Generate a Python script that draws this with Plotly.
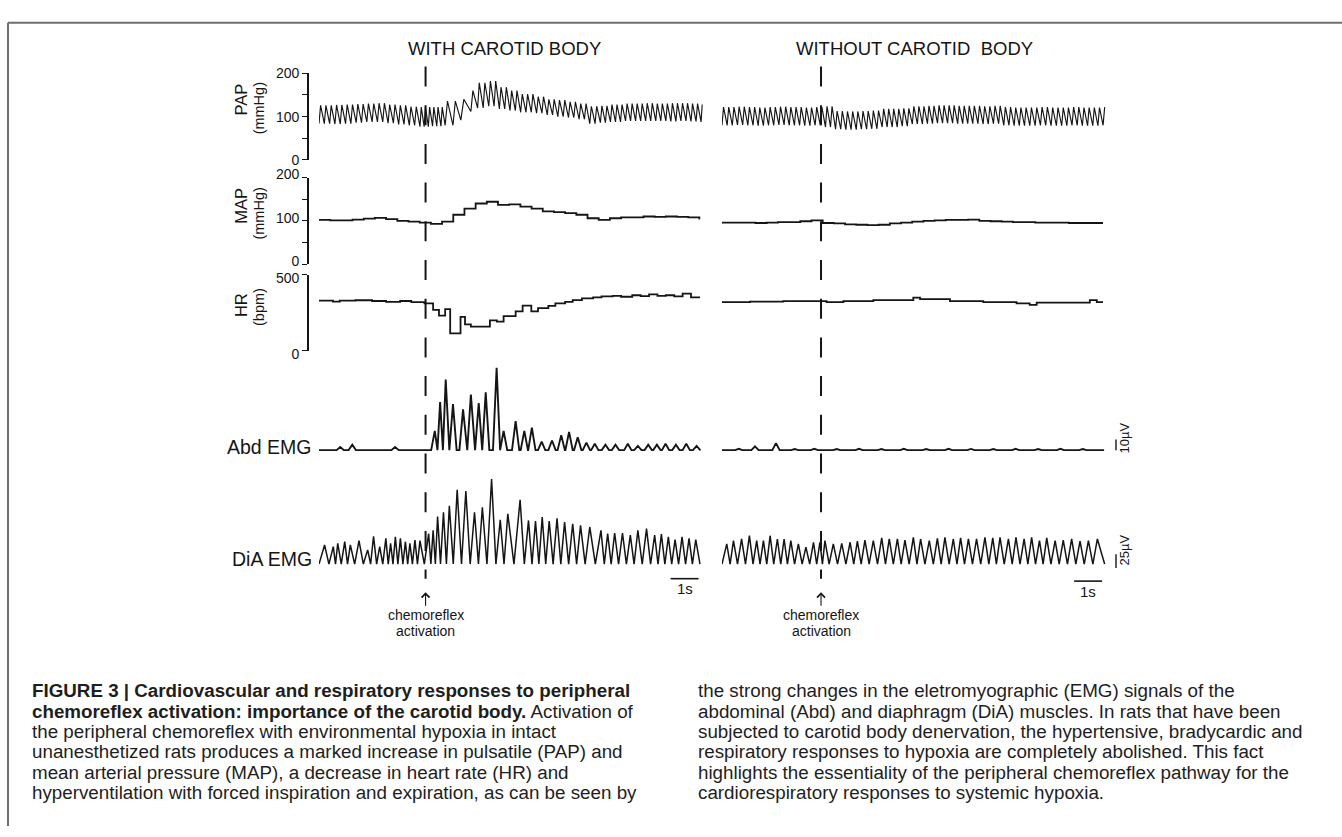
import numpy as np
import plotly.graph_objects as go

W, H = 1342, 837
FONT = "Liberation Sans, Arial, Helvetica, sans-serif"
INK = "#151515"

# ----------------------------- data -----------------------------
# Mean arterial pressure (mmHg), 0.4 s bins
MAP_BIN = 0.4
map_left = [102, 101, 101, 103, 105, 107, 104, 100, 98, 96,
            93, 98, 114, 128, 140, 144, 137, 138, 133, 128,
            122, 120, 118, 114, 106, 102, 106, 108, 108, 110,
            109, 110, 109, 108, 105]
map_right = [96, 96, 96, 95, 96, 97, 97, 99, 101, 95,
             94, 92, 91, 90, 91, 94, 96, 98, 100, 101,
             102, 102, 103, 100, 99, 98, 97, 97, 96, 96,
             96, 95, 95, 95, 95]

# Pulsatile arterial pressure: systolic / diastolic (mmHg) and beat interval (s), 0.4 s bins
PAP_BIN = 0.4
pap_sys_left = [126, 127, 128, 129, 130, 131, 128, 126, 123, 122,
                122, 136, 140, 160, 178, 182, 168, 160, 152, 146,
                140, 138, 134, 130, 124, 125, 128, 130, 130, 131,
                130, 131, 131, 130, 128]
pap_dia_left = [84, 83, 84, 86, 88, 88, 85, 82, 80, 77,
                78, 80, 92, 112, 120, 124, 118, 114, 110, 108,
                104, 100, 98, 94, 84, 86, 88, 90, 90, 90,
                90, 89, 90, 89, 88]
pap_ibi_left = [0.19, 0.19, 0.19, 0.19, 0.19, 0.19, 0.19, 0.19, 0.19, 0.15,
                0.15, 0.28, 0.36, 0.24, 0.20, 0.19, 0.19, 0.19, 0.19, 0.19,
                0.19, 0.19, 0.19, 0.19, 0.19, 0.18, 0.18, 0.18, 0.18, 0.18,
                0.18, 0.18, 0.18, 0.18, 0.18]
pap_sys_right = [122, 123, 122, 121, 122, 123, 122, 121, 122, 124,
                 113, 112, 113, 114, 118, 118, 119, 124, 125, 126,
                 126, 125, 125, 124, 125, 122, 121, 121, 122, 121,
                 121, 122, 121, 121, 122]
pap_dia_right = [80, 81, 80, 79, 80, 81, 80, 79, 80, 76,
                 71, 70, 71, 72, 76, 76, 78, 83, 84, 85,
                 85, 84, 84, 83, 84, 80, 79, 79, 80, 79,
                 79, 80, 79, 79, 80]
pap_ibi_right = [0.185, 0.185, 0.185, 0.185, 0.185, 0.185, 0.185, 0.185, 0.185, 0.18,
                 0.185, 0.185, 0.185, 0.185, 0.18, 0.18, 0.18, 0.18, 0.18, 0.18,
                 0.18, 0.18, 0.185, 0.185, 0.185, 0.185, 0.185, 0.19, 0.19, 0.19,
                 0.185, 0.185, 0.185, 0.185, 0.185]

# Heart rate (bpm) as step changes: start time (s) of each step and its value
hr_left_t = [0.0, 0.5, 0.74, 1.3, 1.9, 2.4, 2.9, 3.3, 3.77, 4.08,
             4.29, 4.51, 4.69, 5.06, 5.22, 5.43, 6.11, 6.36, 6.6, 7.03,
             7.28, 7.59, 7.83, 8.2, 8.45, 8.8, 9.07, 9.4, 9.8, 10.1,
             10.5, 10.8, 11.2, 11.5, 11.8, 12.1, 12.4, 12.7, 13.0, 13.3]
hr_left_bpm = [330, 324, 330, 333, 328, 322, 328, 320, 313, 270,
               232, 275, 115, 223, 174, 160, 200, 192, 228, 260,
               298, 260, 281, 296, 313, 322, 334, 345, 352, 358,
               362, 356, 366, 360, 372, 362, 366, 358, 377, 352]
hr_right_t = [0.0, 1.0, 2.19, 3.74, 4.34, 5.41, 6.84, 7.08, 8.15, 9.34,
              10.53, 11.0, 11.25, 13.15, 13.4]
hr_right_bpm = [321, 324, 327, 321, 327, 334, 350, 340, 327, 321,
                313, 302, 318, 334, 321]

# Abdominal EMG bursts: peak time (s) and amplitude (uV)
abd_left_t = [0.76, 1.19, 2.72, 4.14, 4.33, 4.53, 4.79, 5.15, 5.43, 5.71,
              5.96, 6.35, 6.6, 7.03, 7.34, 7.61, 7.96, 8.33, 8.66, 8.94,
              9.25, 9.56, 9.86, 10.24, 10.6, 11.04, 11.4, 11.77, 12.08, 12.39,
              12.76, 13.13, 13.5]
abd_left_uv = [3, 5, 3, 18, 45, 66, 43, 38, 52, 44,
               54, 77, 18, 27, 18, 21, 8, 9, 14, 17,
               12, 7, 6, 5, 5, 6, 4, 5, 5, 6,
               5, 6, 4]
abd_right_t = [0.6, 1.18, 1.93, 2.6, 3.3, 4.1, 4.9, 5.7, 6.5, 7.3,
               8.1, 8.9, 9.7, 10.5, 11.3, 12.1, 12.9]
abd_right_uv = [1.2, 3.5, 6.5, 1.0, 1.2, 1.0, 1.3, 1.0, 1.2, 1.0,
                1.3, 1.1, 1.0, 1.2, 1.0, 1.2, 1.0]

# Diaphragm EMG cycles: peak time (s) and amplitude (uV)
dia_left_t = [0.20, 0.51, 0.67, 0.92, 1.12, 1.43, 1.74, 1.95, 2.17, 2.39,
              2.56, 2.73, 2.91, 3.09, 3.25, 3.43, 3.61, 3.92, 4.08, 4.24,
              4.45, 4.66, 4.94, 5.25, 5.56, 5.84, 6.17, 6.48, 6.75, 7.19,
              7.49, 7.74, 7.98, 8.23, 8.51, 8.78, 9.07, 9.35, 9.68, 10.08,
              10.32, 10.57, 10.85, 11.13, 11.40, 11.71, 12.0, 12.24, 12.49, 12.73,
              12.98, 13.23, 13.47]
dia_left_uv = [35, 32, 38, 41, 35, 43, 26, 51, 32, 47,
               38, 50, 47, 41, 38, 44, 43, 56, 62, 87,
               95, 107, 136, 134, 95, 104, 156, 81, 92, 118,
               80, 79, 86, 79, 84, 77, 74, 71, 68, 62,
               56, 57, 57, 53, 62, 65, 53, 55, 50, 45,
               50, 47, 45]
dia_right_t = [0.17, 0.41, 0.70, 0.98, 1.24, 1.48, 1.72, 1.98, 2.22, 2.46,
               2.73, 3.0, 3.27, 3.50, 3.68, 3.98, 4.28, 4.58, 4.84, 5.11,
               5.41, 5.71, 5.98, 6.27, 6.54, 6.84, 7.10, 7.41, 7.70, 7.97,
               8.27, 8.53, 8.81, 9.10, 9.40, 9.68, 9.94, 10.24, 10.51, 10.80,
               11.07, 11.35, 11.61, 11.91, 12.20, 12.50, 12.80, 13.10, 13.42]
dia_right_uv = [37, 43, 46, 52, 43, 43, 52, 46, 46, 43,
                37, 31, 40, 40, 43, 37, 38, 40, 42, 44,
                43, 48, 46, 46, 44, 49, 46, 43, 47, 49,
                46, 48, 46, 46, 49, 48, 49, 46, 49, 46,
                49, 43, 48, 43, 44, 46, 42, 43, 46]

# event / scale values
activation_left_s = 3.81
activation_right_s = 3.54
TIME_SCALE_S = 1.0
ABD_SCALE_UV = 10
DIA_SCALE_UV = 25

titles = ["WITH CAROTID BODY", "WITHOUT CAROTID \u00a0BODY"]
caption_left = [
    "<b>FIGURE 3 | Cardiovascular and respiratory responses to peripheral</b>",
    "<b>chemoreflex activation: importance of the carotid body.</b> Activation of",
    "the peripheral chemoreflex with environmental hypoxia in intact",
    "unanesthetized rats produces a marked increase in pulsatile (PAP) and",
    "mean arterial pressure (MAP), a decrease in heart rate (HR) and",
    "hyperventilation with forced inspiration and expiration, as can be seen by",
]
caption_right = [
    "the strong changes in the eletromyographic (EMG) signals of the",
    "abdominal (Abd) and diaphragm (DiA) muscles. In rats that have been",
    "subjected to carotid body denervation, the hypertensive, bradycardic and",
    "respiratory responses to hypoxia are completely abolished. This fact",
    "highlights the essentiality of the peripheral chemoreflex pathway for the",
    "cardiorespiratory responses to systemic hypoxia.",
]

# ----------------------------- helpers -----------------------------
def px(xp):
    return xp / W


def py(yp):
    return 1 - yp / H


def bins_to_steps(vals, bin_s, t_end):
    t = [i * bin_s for i in range(len(vals))] + [t_end]
    return t, list(vals) + [vals[-1]]


def hr_steps(ts, vals, t_end):
    return list(ts) + [t_end], list(vals) + [vals[-1]]


def pulse_trace(sys_v, dia_v, ibi_v, bin_s, t_end):
    xs, ys = [], []
    t = 0.0
    while t < t_end:
        k = min(int(t / bin_s), len(sys_v) - 1)
        ibi = ibi_v[k]
        xs += [t, min(t + 0.3 * ibi, t_end)]
        ys += [dia_v[k], sys_v[k]]
        t += ibi
    return xs, ys


def burst_trace(ts, amps, t_end, hw=0.13):
    xs, ys = [0.0], [0.0]
    n = len(ts)
    for i, (t, a) in enumerate(zip(ts, amps)):
        lo = t - hw if i == 0 else max(t - hw, (ts[i - 1] + t) / 2)
        hi = t + hw if i == n - 1 else min(t + hw, (t + ts[i + 1]) / 2)
        xs += [lo, t, hi]
        ys += [0.0, a, 0.0]
    xs.append(t_end)
    ys.append(0.0)
    return xs, ys


def wave_trace(ts, amps, t_end):
    xs, ys = [0.0], [0.0]
    for i, (t, a) in enumerate(zip(ts, amps)):
        if i > 0:
            xs.append((ts[i - 1] + t) / 2)
            ys.append(0.0)
        xs.append(t)
        ys.append(a)
    xs.append(t_end)
    ys.append(0.0)
    return xs, ys


# ----------------------------- figure -----------------------------
fig = go.Figure()
T_END = 13.62


def add_line(x, y, xa, ya, width, shape="linear"):
    fig.add_trace(go.Scatter(x=x, y=y, xaxis=xa, yaxis=ya, mode="lines",
                             line=dict(color=INK, width=width, shape=shape),
                             hoverinfo="skip", showlegend=False))


for side, xa in (("left", "x"), ("right", "x2")):
    if side == "left":
        sys_v, dia_v, ibi_v, m = pap_sys_left, pap_dia_left, pap_ibi_left, map_left
        hrt, hrv = hr_left_t, hr_left_bpm
        at, au, dt_, du = abd_left_t, abd_left_uv, dia_left_t, dia_left_uv
    else:
        sys_v, dia_v, ibi_v, m = pap_sys_right, pap_dia_right, pap_ibi_right, map_right
        hrt, hrv = hr_right_t, hr_right_bpm
        at, au, dt_, du = abd_right_t, abd_right_uv, dia_right_t, dia_right_uv
    x, y = pulse_trace(sys_v, dia_v, ibi_v, PAP_BIN, 13.7)
    add_line(x, y, xa, "y", 1.15)
    x, y = bins_to_steps(m, MAP_BIN, T_END)
    add_line(x, y, xa, "y2", 1.8, "hv")
    x, y = hr_steps(hrt, hrv, T_END)
    add_line(x, y, xa, "y3", 1.8, "hv")
    x, y = burst_trace(at, au, T_END + (0.04 if side == "right" else 0))
    add_line(x, y, xa, "y4", 1.9)
    x, y = wave_trace(dt_, du, T_END + (0.06 if side == "right" else 0))
    add_line(x, y, xa, "y5", 1.5)

axis_common = dict(showgrid=False, zeroline=False, showline=True, linecolor=INK,
                   linewidth=1.6, ticks="outside", ticklen=5, tickwidth=1.4,
                   tickcolor=INK, anchor="free", position=px(308),
                   tickfont=dict(family=FONT, size=14, color=INK), fixedrange=True)

fig.update_layout(
    width=W, height=H, margin=dict(l=0, r=0, t=0, b=0),
    paper_bgcolor="white", plot_bgcolor="rgba(0,0,0,0)", showlegend=False,
    xaxis=dict(domain=[px(319), px(705)], range=[0, 13.8], visible=False, fixedrange=True),
    xaxis2=dict(domain=[px(722), px(1108)], range=[0, 13.8], visible=False, fixedrange=True),
    yaxis=dict(domain=[py(153), py(64)], range=[0, 200],
               tickvals=[0, 50, 100, 150, 200], ticktext=["0", "", "100", "", "200"],
               **axis_common),
    yaxis2=dict(domain=[py(260), py(171)], range=[0, 200],
                tickvals=[0, 50, 100, 150, 200], ticktext=["0", "", "100", "", "200"],
                ticklabelshift=-3, **axis_common),
    yaxis3=dict(domain=[py(349), py(271)], range=[0, 500],
                tickvals=[0, 500], ticktext=["0", "500"], ticklabelshift=3,
                **axis_common),
    yaxis4=dict(domain=[py(470), py(355)], range=[-17.3, 87.3], visible=False,
                anchor="free", position=0, fixedrange=True),
    yaxis5=dict(domain=[py(590), py(470)], range=[-39.3, 175], visible=False,
                anchor="free", position=0, fixedrange=True),
)

shapes = []
# frame lines
shapes.append(dict(type="line", xref="paper", yref="paper", x0=px(8), x1=1.0,
                   y0=py(12), y1=py(12), line=dict(color="#6e6e6e", width=2)))
shapes.append(dict(type="line", xref="paper", yref="paper", x0=px(8), x1=px(8),
                   y0=py(12), y1=0, line=dict(color="#6e6e6e", width=2)))
# activation dashed lines
for xr, t in (("x", activation_left_s), ("x2", activation_right_s)):
    shapes.append(dict(type="line", xref=xr, yref="paper", x0=t, x1=t,
                       y0=py(57), y1=py(583),
                       line=dict(color=INK, width=2, dash="20px,18.7px")))
# time scale bars
shapes.append(dict(type="line", xref="x", yref="paper", x0=13.57 - TIME_SCALE_S, x1=13.57,
                   y0=py(583), y1=py(583), line=dict(color=INK, width=1.6)))
shapes.append(dict(type="line", xref="x2", yref="paper", x0=13.59 - TIME_SCALE_S, x1=13.59,
                   y0=py(585.5), y1=py(585.5), line=dict(color=INK, width=1.6)))
# amplitude scale bars
shapes.append(dict(type="line", xref="paper", yref="y4", x0=px(1116), x1=px(1116),
                   y0=0, y1=ABD_SCALE_UV, line=dict(color=INK, width=1.4)))
shapes.append(dict(type="line", xref="paper", yref="y5", x0=px(1116), x1=px(1116),
                   y0=-7, y1=-7 + DIA_SCALE_UV, line=dict(color=INK, width=1.4)))
fig.update_layout(shapes=shapes)


def ann(text, x, y, size, xanchor="center", yanchor="middle", angle=0,
        xref="paper", yref="paper", family=FONT, color=INK):
    return dict(text=text, x=x, y=y, xref=xref, yref=yref, showarrow=False,
                xanchor=xanchor, yanchor=yanchor, textangle=angle,
                font=dict(family=family, size=size, color=color))


anns = []
anns.append(ann(titles[0], px(504.5), py(38), 18.5))
anns.append(ann(titles[1], px(915), py(38), 18.5))
# y axis labels
for name, unit, yc, yu in (("PAP", "(mmHg)", 91, 100), ("MAP", "(mmHg)", 200, 208),
                           ("HR", "(bpm)", 302, 304)):
    anns.append(ann(name, px(241), py(yc), 16.5, angle=-90))
    anns.append(ann(unit, px(259), py(yu), 14.5, angle=-90))
anns.append(ann("Abd EMG", px(314), py(448), 19.5, xanchor="right"))
anns.append(ann("DiA EMG", px(314), py(563), 19.5, xanchor="right"))
# scale labels
anns.append(ann("1s", 13.07, py(593), 15, xref="x"))
anns.append(ann("1s", 13.09, py(596), 15, xref="x2"))
anns.append(ann("10µV", px(1124), py(439), 13, angle=-90))
anns.append(ann("25µV", px(1124), py(554), 13, angle=-90))
# activation markers
for xr, t in (("x", activation_left_s), ("x2", activation_right_s)):
    anns.append(dict(text="", x=t, y=py(597), xref=xr, yref="paper", showarrow=True,
                     ax=0, ay=15, axref="pixel", ayref="pixel", arrowhead=4,
                     arrowsize=1.4, arrowwidth=1.1, arrowcolor=INK, standoff=0))
    anns.append(ann("chemoreflex", t, py(620), 14, xref=xr))
    anns.append(ann("activation", t, py(637), 14, xref=xr))
# caption
CAP = 18.8
for i, line in enumerate(caption_left):
    anns.append(ann(line, px(30), py(698 + 21 * i), CAP, xanchor="left", color="#1e1e1e"))
for i, line in enumerate(caption_right):
    anns.append(ann(line, px(696), py(698 + 21 * i), CAP, xanchor="left", color="#1e1e1e"))
fig.update_layout(annotations=anns)

fig.write_html("out.html", config={"displayModeBar": False},
               post_script="document.body.style.margin='0';")
